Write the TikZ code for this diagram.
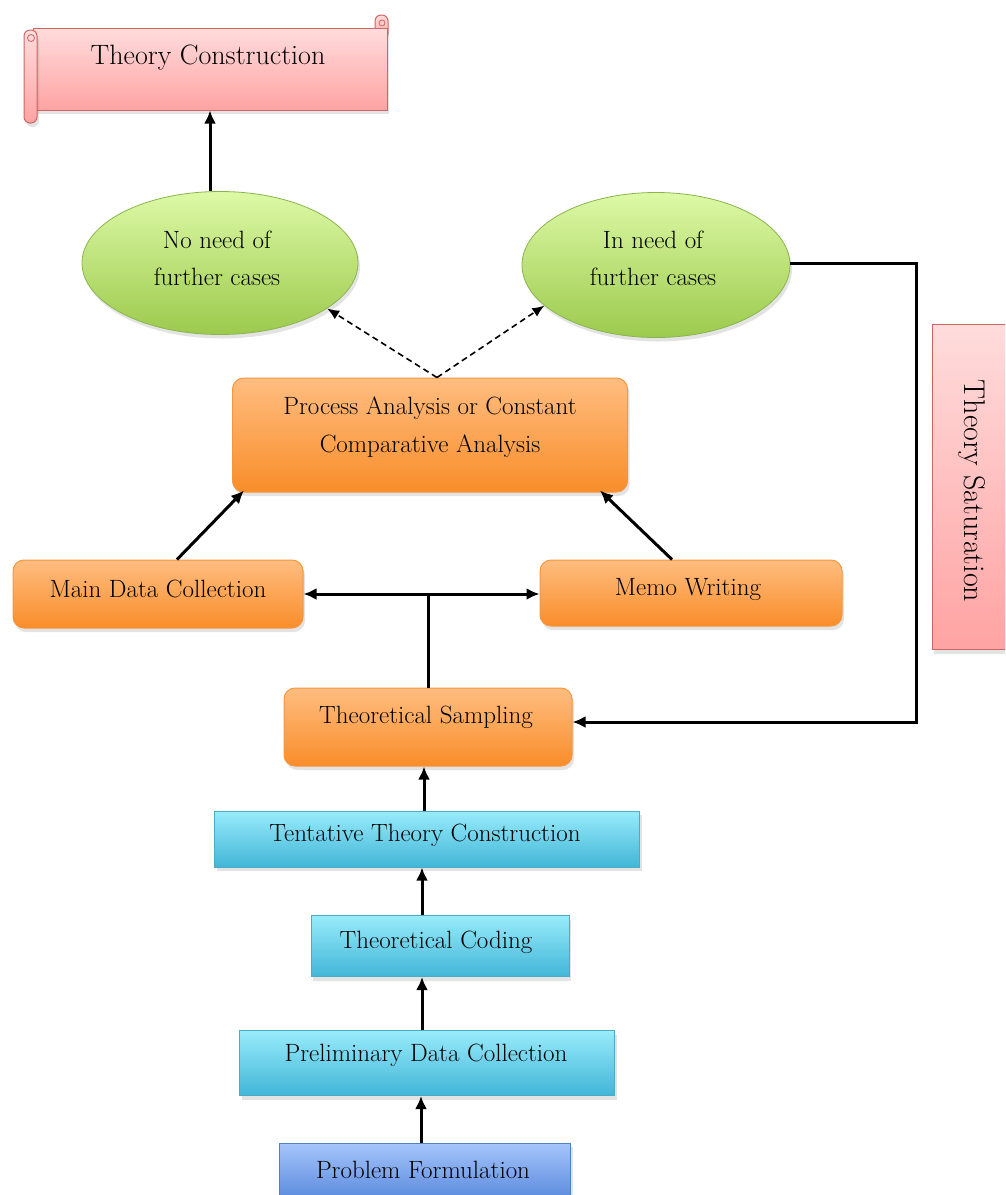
\documentclass[tikz,border=0pt]{standalone}
\usetikzlibrary{shapes.geometric,arrows.meta,shadows,calc}
\definecolor{pinkT}{HTML}{FFDCDC}
\definecolor{pinkBo}{HTML}{FFA3A3}
\definecolor{pinkB}{HTML}{CD6664}
\definecolor{greenT}{HTML}{DDF9A6}
\definecolor{greenBo}{HTML}{9CCA4D}
\definecolor{greenB}{HTML}{8AB54E}
\definecolor{orangeT}{HTML}{FFBD80}
\definecolor{orangeBo}{HTML}{F98D2A}
\definecolor{orangeB}{HTML}{F7963F}
\definecolor{cyanT}{HTML}{98EBFB}
\definecolor{cyanBo}{HTML}{42B6D7}
\definecolor{cyanB}{HTML}{4AACC6}
\definecolor{blueT}{HTML}{A6C5FB}
\definecolor{blueBo}{HTML}{5284DA}
\definecolor{blueB}{HTML}{4F81BD}
\begin{document}
\begin{tikzpicture}[x=1pt,y=-1pt,
  txt/.style={font=\fontsize{25}{37}\selectfont, align=center, inner sep=0pt, text=black},
  shd/.style={drop shadow={shadow xshift=2pt, shadow yshift=-4pt, opacity=0.22}},
  pbox/.style={draw=pinkB, line width=1pt, top color=pinkT, bottom color=pinkBo, shd, inner sep=0pt},
  gell/.style={ellipse, draw=greenB, line width=0.8pt, top color=greenT, bottom color=greenBo, shd, inner sep=0pt},
  obox/.style={draw=orangeB, line width=1pt, rounded corners=11pt, top color=orangeT, bottom color=orangeBo, shd, inner sep=0pt},
  cbox/.style={draw=cyanB, line width=1pt, top color=cyanT, bottom color=cyanBo, shd, inner sep=0pt},
  bbox/.style={draw=blueB, line width=1pt, top color=blueT, bottom color=blueBo, shd, inner sep=0pt},
  arr/.style={line width=3pt, -{Latex[length=13pt,width=12pt]}},
  arrtwo/.style={line width=3pt, {Latex[length=13pt,width=12pt]}-{Latex[length=13pt,width=12pt]}},
  dsh/.style={line width=1.6pt, dash pattern=on 6pt off 4pt, -{Latex[length=12pt,width=10pt]}},
  plain/.style={line width=3pt}
]
\useasboundingbox (0,0) rectangle (1005,1195);
\clip (0,0) rectangle (1005,1195);

% ---------- Theory Construction scroll ----------
\path[draw=pinkB, line width=1pt, top color=pinkT, bottom color=pinkBo, rounded corners=6pt] (375,15) rectangle (388,40);
\node[pbox, minimum width=354pt, minimum height=82pt,
  label={[txt, name=tcT, font=\fontsize{28}{34}\selectfont, yshift=11pt, xshift=-2pt]center:Theory Construction}] (tc) at (210,69) {};
\draw[pinkB, line width=0.8pt] (382,23) circle (3pt);
\path[draw=pinkB, line width=1pt, top color=pinkT, bottom color=pinkBo, rounded corners=6pt, shd] (24,30) rectangle (37,123);
\draw[pinkB, line width=0.8pt] (31,38) circle (3.5pt);

% ---------- Theory Saturation ----------
\node[pbox, minimum width=80pt, minimum height=325pt,
  label={[txt, name=tsatT, font=\fontsize{30}{36}\selectfont, rotate=-90, xshift=4pt]center:Theory Saturation}] (tsat) at (972,487) {};

% ---------- ellipses ----------
\node[gell, minimum width=276pt, minimum height=143pt,
  label={[txt, name=nnT, yshift=5pt, xshift=-3pt]center:{No need of\\further cases}}] (nn) at (220,263) {};
\node[gell, minimum width=268pt, minimum height=145pt,
  label={[txt, name=inT, yshift=7pt, xshift=-3pt]center:{In need of\\further cases}}] (in) at (656,265) {};

% ---------- orange boxes ----------
\node[obox, minimum width=395pt, minimum height=114pt,
  label={[txt, name=paT, font=\fontsize{25}{38}\selectfont, yshift=8pt]center:{Process Analysis or Constant\\Comparative Analysis}}] (pa) at (430,435) {};
\node[obox, minimum width=290pt, minimum height=68pt,
  label={[txt, name=mdcT, yshift=5pt]center:Main Data Collection}] (mdc) at (158,594) {};
\node[obox, minimum width=302pt, minimum height=66pt,
  label={[txt, name=memoT, yshift=3pt, xshift=-3pt]center:Memo Writing}] (memo) at (691,593) {};
\node[obox, minimum width=288pt, minimum height=78pt,
  label={[txt, name=tsT, yshift=10pt, xshift=-2pt]center:Theoretical Sampling}] (ts) at (428,727) {};

% ---------- cyan / blue boxes ----------
\node[cbox, minimum width=425pt, minimum height=56pt,
  label={[txt, name=ttcT, yshift=4pt, xshift=-2pt]center:Tentative Theory Construction}] (ttc) at (427,839) {};
\node[cbox, minimum width=258pt, minimum height=61pt,
  label={[txt, name=tcoT, yshift=4pt, xshift=-4pt]center:Theoretical Coding}] (tco) at (440,946) {};
\node[cbox, minimum width=375pt, minimum height=65pt,
  label={[txt, name=pdcT, yshift=8pt, xshift=-1pt]center:Preliminary Data Collection}] (pdc) at (427,1063) {};
\node[bbox, minimum width=291pt, minimum height=62pt,
  label={[txt, name=pfT, yshift=4pt, xshift=-2pt]center:Problem Formulation}] (pf) at (425,1174) {};

% ---------- connectors ----------
\draw[arr] (nn.north -| tc.south) -- (tc.south);
\coordinate (dtop) at ($(pa.north)+(7,0)$);
\draw[dsh] (dtop) -- (nn.337);
\draw[dsh] (dtop) -- (in.200);
\draw[arr] ($(mdc.north)+(19,0)$) -- ($(pa.south west)+(12,-2)$);
\draw[arr] ($(memo.north)+(-19,0)$) -- ($(pa.south east)+(-28,-2)$);
\draw[arrtwo] (mdc.east) -- (mdc.east -| memo.west);
\draw[plain] (ts.north) -- (ts.north |- mdc.east);
\coordinate (fb) at (916,263);
\coordinate (fbend) at ($(ts.east)+(0,-5)$);
\draw[line width=3pt, line join=miter, -{Latex[length=13pt,width=12pt]}] (in.east |- fb) -- (fb) -- (fb |- fbend) -- (fbend);
\draw[arr] (ttc.north -| 424,0) -- (ts.south -| 424,0);
\draw[arr] (tco.north -| 422,0) -- (ttc.south -| 422,0);
\draw[arr] (pdc.north -| 422,0) -- (tco.south -| 422,0);
\draw[arr] (pf.north -| 421,0) -- (pdc.south -| 421,0);
\end{tikzpicture}
\end{document}
